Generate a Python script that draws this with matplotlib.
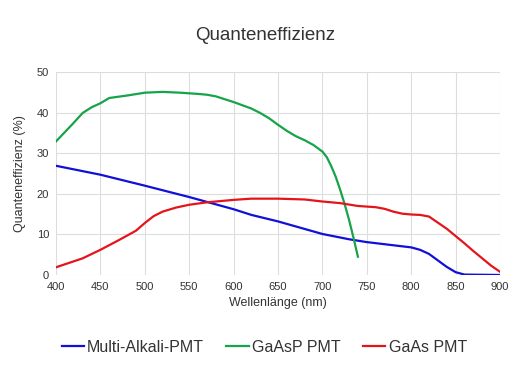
import numpy as np
import matplotlib
matplotlib.use("Agg")
from matplotlib import pyplot as plt

plt.rcParams['font.family'] = ['Liberation Sans', 'DejaVu Sans']

# Multi-Alkali-PMT
ma_x = [400, 450, 500, 550, 600, 620, 650, 700, 730, 750, 800, 810, 820, 830, 840, 850, 860, 900]
ma_y = [26.9, 24.7, 22.0, 19.2, 16.2, 14.8, 13.2, 10.1, 8.8, 8.1, 6.8, 6.2, 5.2, 3.6, 2.0, 0.7, 0.1, 0.0]

# GaAsP PMT
gp_x = [400, 420, 430, 440, 450, 460, 480, 500, 520, 540, 560, 570, 580, 590, 600, 610,
        620, 630, 640, 650, 660, 670, 680, 690, 700, 705, 710, 715, 720, 725, 730, 735, 740]
gp_y = [32.9, 37.5, 39.9, 41.3, 42.3, 43.6, 44.2, 44.9, 45.1, 44.9, 44.6, 44.4, 44.0, 43.3,
        42.6, 41.8, 41.0, 39.9, 38.6, 37.0, 35.5, 34.2, 33.2, 32.0, 30.4, 29.0, 26.8, 24.2,
        21.0, 17.5, 13.6, 9.2, 4.5]

# GaAs PMT
ga_x = [400, 430, 450, 470, 490, 500, 510, 520, 535, 550, 570, 600, 620, 650, 680, 700,
        720, 740, 760, 770, 780, 790, 800, 810, 820, 830, 840, 850, 860, 870, 880, 890, 900]
ga_y = [1.9, 4.1, 6.2, 8.5, 10.9, 12.8, 14.5, 15.6, 16.6, 17.3, 17.9, 18.5, 18.8, 18.8,
        18.6, 18.1, 17.7, 17.0, 16.7, 16.3, 15.6, 15.1, 14.9, 14.8, 14.4, 12.9, 11.4, 9.6,
        7.8, 5.9, 4.1, 2.3, 0.8]

fig = plt.figure(figsize=(5.2, 3.9), dpi=100)
ax = fig.add_axes([0.1077, 0.2949, 0.8538, 0.5205])

ax.plot(ma_x, ma_y, color='#1010d8', lw=1.6, label='Multi-Alkali-PMT')
ax.plot(gp_x, gp_y, color='#17a34a', lw=1.6, label='GaAsP PMT')
ax.plot(ga_x, ga_y, color='#e5141b', lw=1.6, label='GaAs PMT')

ax.set_xlim(400, 900)
ax.set_ylim(0, 50)
ax.set_xticks(np.arange(400, 901, 50))
ax.set_yticks(np.arange(0, 51, 10))
ax.grid(color='#dddddd', lw=0.8)
ax.set_axisbelow(True)
for s in ax.spines.values():
    s.set_visible(False)
ax.tick_params(length=0, labelsize=8, colors='#333333', pad=5)

ax.set_xlabel('Wellenlänge (nm)', fontsize=9, color='#333333', labelpad=4)
ax.set_ylabel('Quanteneffizienz (%)', fontsize=9, color='#333333', labelpad=8)
fig.text(0.51, 0.91, 'Quanteneffizienz', ha='center', va='center', fontsize=13.5, color='#333333')

fig.legend(loc='center', bbox_to_anchor=(0.508, 0.11), ncol=3, frameon=False,
           fontsize=11.5, handlelength=1.4, handletextpad=0.2, columnspacing=1.4,
           labelcolor='#333333')

fig.savefig('out.png', dpi=100)
